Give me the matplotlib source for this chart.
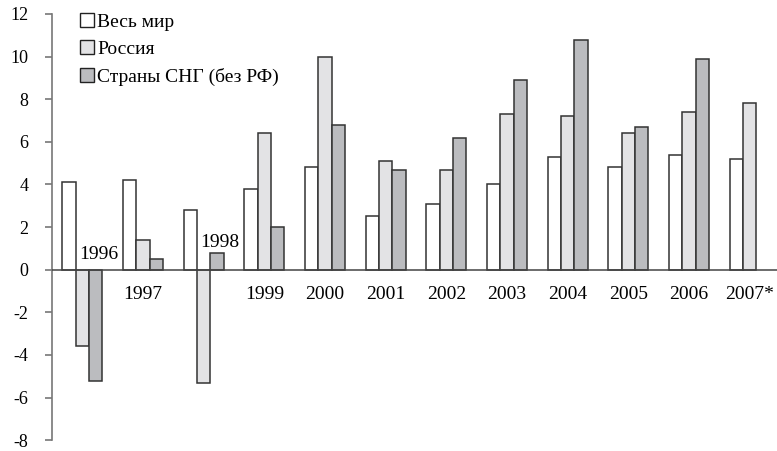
import numpy as np
import matplotlib.pyplot as plt
from matplotlib.lines import Line2D

years = ['1996', '1997', '1998', '1999', '2000', '2001', '2002', '2003', '2004', '2005', '2006', '2007*']
world = [4.1, 4.2, 2.8, 3.8, 4.8, 2.5, 3.1, 4.0, 5.3, 4.8, 5.4, 5.2]
russia = [-3.6, 1.4, -5.3, 6.4, 10.0, 5.1, 4.7, 7.3, 7.2, 6.4, 7.4, 7.8]
cis = [-5.2, 0.5, 0.8, 2.0, 6.8, 4.7, 6.2, 8.9, 10.8, 6.7, 9.9, np.nan]
labels = ['Весь мир', 'Россия', 'Страны СНГ (без РФ)']
colors = ['#ffffff', '#e3e3e5', '#bbbcbf']

plt.rcParams['font.family'] = ['Liberation Serif', 'DejaVu Serif']
plt.rcParams['axes.unicode_minus'] = False

fig = plt.figure(figsize=(7.77, 4.51), dpi=100)
ax = fig.add_axes([0.067, 0.024, 0.933, 0.945])

x = np.arange(len(years))
w = 0.22
for k, (vals, col) in enumerate(zip([world, russia, cis], colors)):
    ax.bar(x + (k - 1) * w, vals, w, color=col, edgecolor='#333333', linewidth=1.1, zorder=2)

ax.axhline(0, color='#444444', linewidth=1.1, zorder=3)

# year labels: above the zero line where bars go negative
for i, yr in enumerate(years):
    if russia[i] < 0:
        ax.text(x[i] - w / 2 + 0.05, max(0.3, cis[i] + 0.1), yr, ha='left', va='bottom', fontsize=14, zorder=4)
    else:
        ax.text(x[i], -0.75, yr, ha='center', va='top', fontsize=14, zorder=4)

ax.set_xlim(-0.5, 11.45)
ax.set_ylim(-8, 12)
ax.set_yticks(np.arange(-8, 13, 2))
ax.set_xticks([])
for s in ['top', 'right', 'bottom']:
    ax.spines[s].set_visible(False)
ax.spines['left'].set_color('#777777')
ax.spines['left'].set_linewidth(1.2)
ax.tick_params(axis='y', colors='#777777', labelcolor='black', length=5, width=1.2, labelsize=13, pad=12)

handles = [Line2D([], [], marker='s', linestyle='none', markersize=10,
                  markerfacecolor=c, markeredgecolor='#222222', markeredgewidth=1.0) for c in colors]
ax.legend(handles, labels, loc='upper left', bbox_to_anchor=(0.025, 1.02), frameon=False,
          fontsize=14, handletextpad=0.1, labelspacing=0.5, handlelength=0.9, borderaxespad=0)

fig.savefig('out.png', dpi=100)
